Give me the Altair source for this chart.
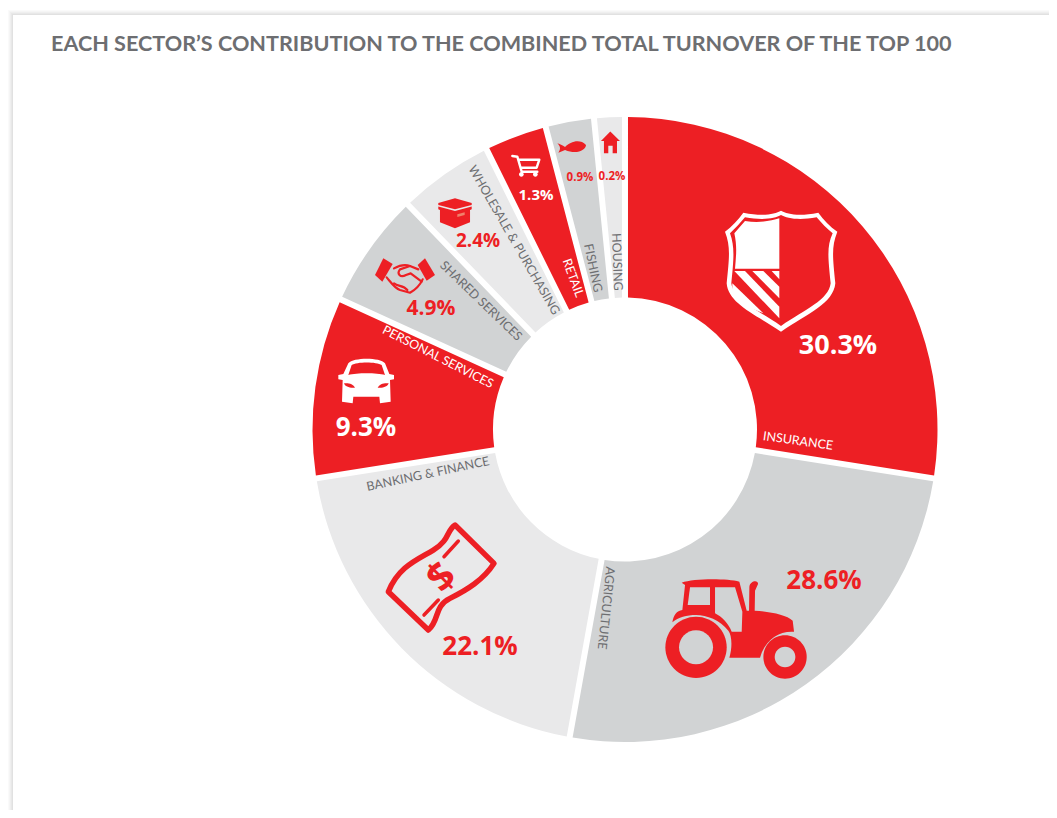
import re
import altair as alt
import pandas as pd

# ---------- chart values ----------
sectors = ["INSURANCE", "AGRICULTURE", "BANKING & FINANCE", "PERSONAL SERVICES", "SHARED SERVICES",
           "WHOLESALE & PURCHASING", "RETAIL", "FISHING", "HOUSING"]
pct_labels = [30.3, 28.6, 22.1, 9.3, 4.9, 2.4, 1.3, 0.9, 0.2]
# angular size of each slice as drawn in the picture (degrees); small slices are exaggerated
arc_degrees = [99.0, 91.2, 70.8, 33.6, 21.4, 17.7, 11.6, 9.0, 5.7]

# ---------- styling ----------
RED = "#ED1F24"
MID = "#D1D3D4"
LIGHT = "#E9E9EA"
TXT = "#6D6E71"
slice_colors = [RED, MID, LIGHT, RED, MID, LIGHT, RED, MID, LIGHT]
PCX, PCY = 625, 429.5        # centre of the ring, page pixels
NARROW = "Lato"
BOLD = "Open Sans"

def X(v): return alt.value(v - 8)
def Y(v): return alt.value(v - 8)

one = alt.Data(values=[{"a": 1}])
layers = []

# page panel with soft shadow
for k, g in [(5, "#FAFAFA"), (4, "#F5F5F5"), (3, "#EFEFEF"), (2, "#E8E8E8"), (1, "#E1E1E1"), (0, "#FFFFFF")]:
    layers.append(alt.Chart(one).mark_rect(fill=g).encode(
        x=X(13 - k), x2=alt.value(1041), y=Y(15 - k), y2=alt.value(802)))

df = pd.DataFrame({"sector": sectors, "arc": arc_degrees, "idx": range(len(sectors)), "pct": pct_labels})
df["pct_text"] = [f"{v}%" for v in pct_labels]

layers.append(alt.Chart(df).mark_arc(radius=312.5, radius2=132, padAngle=0.0176).encode(
    theta=alt.Theta("arc:Q", stack=True, scale=alt.Scale(domain=[0, sum(arc_degrees)])),
    color=alt.Color("sector:N", scale=alt.Scale(domain=sectors, range=slice_colors), legend=None),
    order=alt.Order("idx:Q"),
    x=X(PCX), y=Y(PCY)))

# ---------- text ----------
def text_layer(field, row, x, y, size, color, font, angle=0, weight="normal"):
    d = df.iloc[[row]]
    return alt.Chart(d).mark_text(fontSize=size, color=color, font=font, angle=angle, fontWeight=weight,
                                  align="center", baseline="middle").encode(
        x=X(x), y=Y(y), text=alt.Text(field + ":N"))

# sector names: row, x, y, angle, colour
for row, x, y, ang, col in [
    (0, 798, 441, 8, "#FFFFFF"),
    (1, 606, 608, 96, TXT),
    (2, 428, 474, 348, TXT),
    (3, 438, 357, 27, "#FFFFFF"),
    (4, 481, 301, 44, TXT),
    (5, 514, 240, 60, TXT),
    (6, 573, 278, 70, "#FFFFFF"),
    (7, 593, 268, 78, TXT),
    (8, 617, 262, 88, TXT),
]:
    layers.append(text_layer("sector", row, x, y, 12.5, col, NARROW, ang))

# percentages: row, x, y, size, colour
for row, x, y, size, col in [
    (0, 838, 345.5, 27, "#FFFFFF"),
    (1, 824, 581, 26, RED),
    (2, 480, 647, 26, RED),
    (3, 366, 427.5, 26, "#FFFFFF"),
    (4, 431, 309, 21, RED),
    (5, 478, 241, 19, RED),
    (6, 536, 195, 15, "#FFFFFF"),
    (7, 580, 178, 11.5, RED),
    (8, 612, 177, 11.5, RED),
]:
    layers.append(text_layer("pct_text", row, x, y, size, col, BOLD, 0, "bold"))

# ---------- pictograms (custom symbol shapes) ----------
def shape(path, cx, cy, h):
    """Normalise 'x,y' pairs drawn around (cx,cy) with half-extent h to the unit symbol box."""
    return re.sub(r"(-?[\d.]+),(-?[\d.]+)",
                  lambda m: f"{(float(m[1]) - cx) / h:.4f},{(float(m[2]) - cy) / h:.4f}", path)

def circle(x, y, r):
    k = 0.5523 * r
    return (f"M{x+r},{y} C{x+r},{y+k} {x+k},{y+r} {x},{y+r} C{x-k},{y+r} {x-r},{y+k} {x-r},{y} "
            f"C{x-r},{y-k} {x-k},{y-r} {x},{y-r} C{x+k},{y-r} {x+r},{y-k} {x+r},{y} Z")

def icon(paths, box, page, fill=None, stroke=None, sw=0):
    cx, cy, h = box
    px, py, ph = page
    for p in paths if isinstance(paths, list) else [paths]:
        kw = dict(shape=shape(p, cx, cy, h), size=(2 * ph) ** 2, opacity=1)
        if fill:
            kw.update(filled=True, fill=fill, strokeWidth=0)
        else:
            kw.update(filled=False, stroke=stroke, strokeWidth=sw, strokeCap="round", strokeJoin="round")
        layers.append(alt.Chart(one).mark_point(**kw).encode(x=X(px), y=Y(py)))

# shield
b, pg = (243, 244.5, 183), (781, 271.5, 61)
icon("M243,62 C225,72 190,80 130,68 C115,90 95,110 75,125 C92,170 88,200 80,280 C85,340 160,370 243,425 "
     "C326,370 400,340 406,280 C398,200 394,170 412,125 C390,110 370,90 355,68 C296,80 261,72 243,62 Z", b, pg, "#FFFFFF")
icon("M243,75 C225,85 190,92 135,82 C120,100 105,115 90,130 C104,170 102,200 94,280 C100,330 170,358 243,408 "
     "C316,358 386,330 392,280 C384,200 380,170 398,130 C380,115 365,100 350,82 C296,92 261,85 243,75 Z", b, pg, RED)
icon(["M238,85 C215,92 180,100 135,93 L103,130 C112,170 108,200 105,236 L238,236 Z",
      "M215,243 L238,243 L238,268 Z",
      "M157,243 L190,243 L238,290 L238,325 Z",
      "M103,243 L135,243 L238,350 L238,385 Z",
      "M97,280 L190,370 C150,355 110,335 97,310 Z"], b, pg, "#FFFFFF")

# tractor
b, pg = (260, 206, 210), (736.7, 628.7, 70)
icon(["M95,68 C130,55 230,55 268,65 L290,152 L297,152 L298,80 C300,62 325,58 324,72 L315,92 L314,152 "
      "C360,155 410,165 428,182 L432,215 C385,212 345,240 330,293 L238,293 C248,260 245,225 235,212 "
      "C210,180 170,165 138,165 C110,165 85,172 67,187 C70,165 80,152 97,150 L105,75 Z",
      circle(138, 262, 92), circle(405, 291, 65)], b, pg, RED)
icon(["M120,82 L180,82 L180,135 L113,135 Z",
      "M195,82 L255,82 L277,155 L275,215 L245,215 C235,190 215,170 195,160 Z",
      circle(138, 262, 51), circle(405, 291, 31)], b, pg, MID)

# banknote
b, pg = (213, 200, 165), (441, 576.7, 55)
icon("M255,45 C230,60 240,90 190,120 C140,150 85,170 55,245 L175,360 C210,330 190,290 240,265 "
     "C290,240 340,210 372,160 Z", b, pg, None, RED, 5.5)
icon(["M222,140 L265,93 Z", "M162,315 L205,270 Z"], b, pg, None, RED, 3.5)
layers.append(alt.Chart(one).mark_text(text="$", fontSize=40, font=BOLD, fontWeight="bold", color=RED,
                                       angle=315, align="center", baseline="middle").encode(x=X(442), y=Y(578)))

# car
b, pg = (138, 423, 84), (366, 381, 28)
icon("M85,370 C100,352 180,352 195,370 L208,402 L222,405 L222,418 L210,420 L212,485 L180,490 L178,470 "
     "L100,470 L98,490 L66,485 L68,420 L55,418 L55,405 L70,402 Z", b, pg, "#FFFFFF")
icon(["M85,405 C110,398 170,398 195,405 L185,375 C170,365 110,365 95,375 Z",
      "M72,430 C85,428 100,432 105,443 C90,445 75,440 72,430 Z",
      "M206,430 C193,428 178,432 173,443 C188,445 203,440 206,430 Z"], b, pg, RED)

# handshake
b, pg = (255, 110, 90), (405, 276.7, 30)
icon(["M190,55 L218,72 L187,125 L165,105 Z", "M315,55 L345,105 L320,122 L293,75 Z"], b, pg, RED)
icon(["M200,112 C215,130 225,145 240,150 L270,158 C285,150 300,135 308,118",
      "M222,85 C240,75 255,72 270,78 L295,88",
      "M270,78 L240,88 C230,100 240,115 258,105 L272,100 L305,125",
      "M222,130 C235,140 250,135 262,150"], b, pg, None, RED, 2.2)

# box
b, pg = (75, 295, 50), (455, 213.3, 16.7)
icon(["M25,264 L75,250 L125,264 L125,270 L75,283 L25,270 Z",
      "M25,275 L75,288 L125,275 L125,283 L120,285 L120,322 L75,340 L30,322 L30,285 L25,283 Z"], b, pg, RED)
icon("M82,298 L104,292 L104,300 L82,306 Z", b, pg, "#F0806A")

# cart
b, pg = (288, 152, 42), (526, 165.7, 14)
icon(["M247,123 L262,125 L275,170 L322,170", "M268,134 L328,134 L320,158 L275,158"], b, pg, None, "#FFFFFF", 2.4)
icon([circle(274, 178, 7), circle(316, 178, 7)], b, pg, "#FFFFFF")

# fish
b, pg = (425, 96, 43), (571.7, 147, 14.3)
icon("M382,85 C390,88 400,92 405,96 C420,80 450,70 468,90 C468,105 440,120 405,105 L385,113 "
     "C392,103 392,95 382,85 Z", b, pg, RED)

# house
b, pg = (541, 82, 32), (610.3, 142.3, 10.7)
icon("M541,50 L570,78 L561,78 L561,115 L548,115 L548,92 L535,92 L535,115 L522,115 L522,78 L513,78 Z", b, pg, RED)

# title
layers.append(alt.Chart(one).mark_text(
    text="EACH SECTOR\u2019S CONTRIBUTION TO THE COMBINED TOTAL TURNOVER OF THE TOP 100",
    fontSize=21.6, font="Lato", fontWeight="bold", color=TXT, align="left", baseline="middle").encode(x=X(51), y=Y(44.5)))

chart = alt.layer(*layers).properties(width=1041, height=802, padding=0,
                                      autosize=alt.AutoSizeParams(type="none")).configure_view(stroke=None)
chart.save("out.html", embed_options={"renderer": "svg", "actions": False})
